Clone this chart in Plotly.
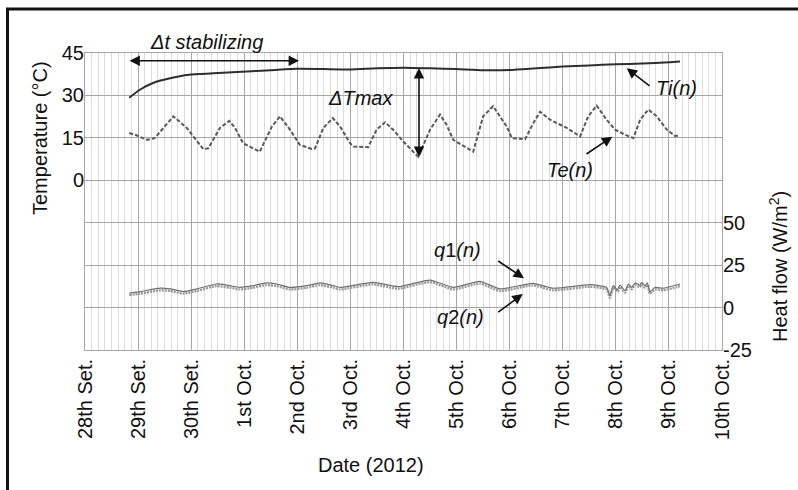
import plotly.graph_objects as go
import pandas as pd

# ---------------- data ----------------
day_ticks = ["2012-09-28", "2012-09-29", "2012-09-30", "2012-10-01", "2012-10-02",
             "2012-10-03", "2012-10-04", "2012-10-05", "2012-10-06", "2012-10-07",
             "2012-10-08", "2012-10-09", "2012-10-10"]
day_labels = ["28th Set.", "29th Set.", "30th Set.", "1st Oct.", "2nd Oct.",
              "3rd Oct.", "4th Oct.", "5th Oct.", "6th Oct.", "7th Oct.",
              "8th Oct.", "9th Oct.", "10th Oct."]

ti_time = ["2012-09-28 20:00", "2012-09-29 01:00", "2012-09-29 07:00", "2012-09-29 14:00",
           "2012-09-29 23:00", "2012-09-30 10:00", "2012-09-30 23:00", "2012-10-01 12:00",
           "2012-10-02 00:00", "2012-10-02 12:00", "2012-10-03 00:00", "2012-10-03 12:00",
           "2012-10-04 00:00", "2012-10-04 12:00", "2012-10-05 00:00", "2012-10-05 12:00",
           "2012-10-06 00:00", "2012-10-06 12:00", "2012-10-07 00:00", "2012-10-07 12:00",
           "2012-10-08 00:00", "2012-10-08 12:00", "2012-10-09 00:00", "2012-10-09 05:00"]
ti_vals = [29.2, 32.1, 34.5, 36.0, 37.3, 37.8, 38.4, 38.9, 39.4, 39.3, 39.2, 39.6,
           39.8, 39.6, 39.3, 38.9, 39.0, 39.6, 40.2, 40.6, 41.0, 41.3, 41.7, 42.0]

te_time = ["2012-09-28 20:00", "2012-09-28 23:00", "2012-09-29 04:00", "2012-09-29 07:30",
           "2012-09-29 16:00", "2012-09-29 22:00", "2012-09-30 01:00", "2012-09-30 05:30",
           "2012-09-30 07:45", "2012-09-30 13:00", "2012-09-30 17:15", "2012-09-30 19:50",
           "2012-09-30 23:30", "2012-10-01 07:00", "2012-10-01 12:30", "2012-10-01 16:10",
           "2012-10-01 20:40", "2012-10-02 01:10", "2012-10-02 06:30", "2012-10-02 08:00",
           "2012-10-02 11:45", "2012-10-02 16:00", "2012-10-02 19:20", "2012-10-02 23:50",
           "2012-10-03 01:20", "2012-10-03 08:00", "2012-10-03 11:50", "2012-10-03 15:40",
           "2012-10-03 19:20", "2012-10-03 23:55", "2012-10-04 06:40", "2012-10-04 12:00",
           "2012-10-04 16:30", "2012-10-04 19:30", "2012-10-04 22:30", "2012-10-05 07:30",
           "2012-10-05 12:00", "2012-10-05 16:30", "2012-10-05 22:40", "2012-10-06 01:00",
           "2012-10-06 07:00", "2012-10-06 10:40", "2012-10-06 13:45", "2012-10-06 18:15",
           "2012-10-07 01:50", "2012-10-07 07:50", "2012-10-07 11:30", "2012-10-07 15:20",
           "2012-10-07 19:50", "2012-10-07 23:40", "2012-10-08 04:10", "2012-10-08 07:55",
           "2012-10-08 11:00", "2012-10-08 14:40", "2012-10-08 18:30", "2012-10-08 23:00",
           "2012-10-09 02:45", "2012-10-09 05:00"]
te_vals = [16.7, 16.0, 14.3, 14.9, 22.6, 18.5, 15.5, 11.0, 11.3, 18.5, 21.0, 18.5,
           13.1, 10.1, 19.0, 22.6, 17.9, 12.5, 11.1, 11.3, 18.5, 22.0, 19.0, 13.1,
           11.9, 11.7, 17.9, 20.5, 17.9, 13.7, 8.3, 17.9, 23.2, 19.6, 14.3, 10.1,
           22.6, 26.2, 19.0, 14.9, 14.5, 20.2, 24.2, 21.4, 18.5, 15.5, 22.6, 26.4,
           21.4, 17.9, 16.1, 14.9, 21.4, 25.0, 22.6, 17.9, 15.7, 15.8]

q_time = ["2012-09-28 20:00", "2012-09-29 01:00", "2012-09-29 10:00", "2012-09-29 14:30",
          "2012-09-29 20:30", "2012-09-30 02:30", "2012-09-30 11:30", "2012-09-30 17:30",
          "2012-09-30 22:00", "2012-10-01 04:00", "2012-10-01 10:00", "2012-10-01 14:40",
          "2012-10-01 20:40", "2012-10-02 04:15", "2012-10-02 10:15", "2012-10-02 16:15",
          "2012-10-02 19:20", "2012-10-03 10:20", "2012-10-03 21:30", "2012-10-04 12:00",
          "2012-10-04 22:30", "2012-10-05 10:30", "2012-10-05 19:40", "2012-10-06 10:40",
          "2012-10-06 19:45", "2012-10-07 12:20", "2012-10-07 19:50", "2012-10-07 21:20",
          "2012-10-07 22:50", "2012-10-08 00:40", "2012-10-08 01:55", "2012-10-08 04:10",
          "2012-10-08 05:40", "2012-10-08 07:10", "2012-10-08 08:40", "2012-10-08 10:55",
          "2012-10-08 11:40", "2012-10-08 13:10", "2012-10-08 14:15", "2012-10-08 15:25",
          "2012-10-08 17:45", "2012-10-08 21:30", "2012-10-09 03:30", "2012-10-09 05:00"]
q1_vals = [8.6, 9.4, 11.4, 11.0, 9.4, 11.0, 13.9, 12.9, 11.9, 12.9, 14.5, 13.9,
           11.9, 12.9, 14.5, 12.9, 11.9, 14.9, 12.3, 16.2, 11.9, 15.4, 11.0, 14.3,
           11.4, 13.5, 11.9, 7.0, 12.9, 10.5, 13.3, 10.0, 13.9, 11.9, 14.5, 13.3,
           14.9, 12.9, 14.5, 9.4, 11.9, 11.4, 13.3, 13.9]
q2_vals = [7.4, 8.2, 10.2, 9.8, 8.2, 9.8, 12.7, 11.7, 10.7, 11.7, 13.3, 12.7,
           10.7, 11.7, 13.3, 11.7, 10.7, 13.7, 11.1, 15.0, 10.7, 14.2, 9.8, 13.1,
           10.2, 12.3, 10.7, 5.8, 11.7, 9.3, 12.1, 8.8, 12.7, 10.7, 13.3, 12.1,
           13.7, 11.7, 13.3, 8.2, 10.7, 10.2, 12.1, 12.7]

temp_grid = [-60, -45, -30, -15, 0, 15, 30, 45]
temp_ticks = [0, 15, 30, 45]
temp_labels = ["0", "15", "30", "45"]
flow_ticks = [-25, 0, 25, 50]
flow_labels = ["-25", "0", "25", "50"]

# ---------------- geometry helpers (pixel -> paper) ----------------
L, R, T, B = 85, 76, 53, 140
W, H = 798, 490
PW, PH = W - L - R, H - T - B


def px(x):
    return (x - L) / PW


def py(y):
    return (H - B - y) / PH


FONT = "Liberation Sans, Arial, Helvetica, sans-serif"
FS = 20
MAJOR = "#a6a6a6"
MINOR = "#dcdcdc"

fig = go.Figure()

fig.add_trace(go.Scatter(x=pd.to_datetime(ti_time), y=ti_vals, mode="lines",
                         line=dict(color="#2e2e2e", width=2, shape="spline", smoothing=0.6),
                         name="Ti(n)", showlegend=False, hoverinfo="skip"))
fig.add_trace(go.Scatter(x=pd.to_datetime(te_time), y=te_vals, mode="lines",
                         line=dict(color="#5a5a5a", width=2, dash="4px,2px"),
                         name="Te(n)", showlegend=False, hoverinfo="skip"))
fig.add_trace(go.Scatter(x=pd.to_datetime(q_time), y=q2_vals, mode="lines", yaxis="y2",
                         line=dict(color="#9a9a9a", width=2.4, dash="2px,1px",
                                   shape="spline", smoothing=0.5),
                         name="q2(n)", showlegend=False, hoverinfo="skip"))
fig.add_trace(go.Scatter(x=pd.to_datetime(q_time), y=q1_vals, mode="lines", yaxis="y2",
                         line=dict(color="#707070", width=1.2, shape="spline", smoothing=0.5),
                         name="q1(n)", showlegend=False, hoverinfo="skip"))

fig.update_layout(
    width=W, height=H,
    margin=dict(l=L, r=R, t=T, b=B, pad=0, autoexpand=False),
    paper_bgcolor="white", plot_bgcolor="white",
    font=dict(family=FONT, size=FS, color="#111"),
    showlegend=False,
    xaxis=dict(
        type="date", automargin=False,
        range=[day_ticks[0], day_ticks[-1]],
        tickmode="array", tickvals=day_ticks, ticktext=day_labels,
        tickangle=-90, ticks="", showgrid=True, gridcolor=MAJOR, gridwidth=1,
        showline=True, linecolor=MAJOR, linewidth=1, mirror=True,
        zeroline=False,
        minor=dict(dtick=3 * 3600 * 1000, tick0=day_ticks[0], showgrid=True,
                   gridcolor=MINOR, gridwidth=1, ticks=""),
        tickfont=dict(size=FS),
    ),
    # gridline carrier (no labels)
    yaxis=dict(
        range=[-60, 45], tickmode="array", tickvals=temp_grid, showticklabels=False,
        automargin=False,
        ticks="", showgrid=True, gridcolor=MAJOR, gridwidth=1, zeroline=False,
        showline=True, linecolor=MAJOR, linewidth=1, mirror=True,
    ),
    yaxis2=dict(
        overlaying="y", side="right", range=[-25, 150], automargin=False,
        tickmode="array", tickvals=flow_ticks, ticktext=flow_labels,
        ticks="", showgrid=False, zeroline=False, tickfont=dict(size=FS),
    ),
    # temperature labels
    yaxis3=dict(
        overlaying="y", side="left", range=[-60, 45], automargin=False,
        tickmode="array", tickvals=temp_ticks, ticktext=temp_labels,
        ticks="", showgrid=False, zeroline=False, showline=False, tickfont=dict(size=FS),
    ),
)

# invisible trace to activate the temperature label axis
fig.add_trace(go.Scatter(x=[day_ticks[0]], y=[0], yaxis="y3", mode="markers",
                         marker=dict(opacity=0), showlegend=False, hoverinfo="skip"))

ann = []
# axis titles
ann.append(dict(xref="paper", yref="paper", x=px(40), y=py(138), text="Temperature (°C)",
                textangle=-90, showarrow=False, xanchor="center", yanchor="middle"))
ann.append(dict(xref="paper", yref="paper", x=px(778), y=py(266), text="Heat flow (W/m<sup>2</sup>)",
                textangle=-90, showarrow=False, xanchor="center", yanchor="middle"))
ann.append(dict(xref="paper", yref="paper", x=px(371), y=py(465), text="Date (2012)",
                showarrow=False, xanchor="center", yanchor="middle"))

# labels
labels = [
    ("<i>Δt stabilizing</i>", 206, 42),
    ("<i>ΔTmax</i>", 360, 98),
    ("<i>Ti(n)</i>", 676, 88),
    ("<i>Te(n)</i>", 570, 170),
    ("<i>q</i>1<i>(n)</i>", 458, 250),
    ("<i>q</i>2<i>(n)</i>", 460, 317),
]
for txt, x, y in labels:
    ann.append(dict(xref="paper", yref="paper", x=px(x), y=py(y), text=txt,
                    showarrow=False, xanchor="center", yanchor="middle"))

# arrows: (head_x, head_y, tail_x, tail_y, both_ends)
arrows = [
    (299, 60.7, 128, 60.7, True),
    (419, 157, 419, 66.5, True),
    (626.7, 68.3, 651, 87, False),
    (612.3, 136.7, 585, 155, False),
    (524, 278.3, 496.7, 260, False),
    (522.7, 294, 496.7, 313.3, False),
]
for hx, hy, tx, ty, both in arrows:
    ann.append(dict(xref="paper", yref="paper", x=px(hx), y=py(hy), text="",
                    showarrow=True, ax=tx - hx, ay=ty - hy,
                    arrowhead=2, arrowsize=1.3, arrowwidth=1.6, arrowcolor="#111",
                    arrowside="end+start" if both else "end"))

fig.update_layout(annotations=ann)

# outer frame of the figure
fig.add_shape(type="rect", xref="paper", yref="paper",
              x0=px(7.5), x1=px(820), y0=py(520), y1=py(9),
              line=dict(color="#111", width=3), fillcolor="rgba(0,0,0,0)", layer="above")

fig.write_html("out.html", config={"displayModeBar": False},
               post_script="document.body.style.margin='0';")
